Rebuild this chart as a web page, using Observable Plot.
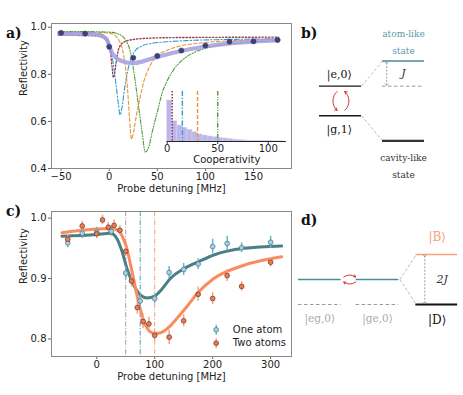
<!DOCTYPE html>
<html><head><meta charset="utf-8">
<script src="https://cdn.jsdelivr.net/npm/d3@7"></script>
<script src="https://cdn.jsdelivr.net/npm/@observablehq/plot@0.6"></script>
<style>
body{margin:0;background:#fff;}
#fig{position:relative;width:463px;height:395px;overflow:hidden;background:#fff;}
.lab{position:absolute;font-family:"DejaVu Serif",serif;font-weight:bold;font-size:14px;line-height:14px;color:#111;}
</style></head><body><div id="fig"></div>
<script>
// ---------- Panel a data ----------
const xTicksA = [-50, 0, 50, 100, 150];
const yTicksA = [0.4, 0.6, 0.8, 1.0];
const detA = [-50, -25, 0, 25, 50, 75, 100, 125, 150, 175];
const reflA = [0.976, 0.973, 0.917, 0.870, 0.878, 0.901, 0.922, 0.939, 0.940, 0.946];
const avgX = [-52, -20, -10, -3, 3, 8, 14, 20, 26, 35, 50, 75, 100, 125, 150, 176];
const avgY = [0.972, 0.971, 0.966, 0.950, 0.890, 0.867, 0.855, 0.849, 0.848, 0.855, 0.874, 0.899, 0.918, 0.931, 0.939, 0.945];
const maroonX = [-53, -30, -15, -8, -4, -1, 1.5, 3, 4.4, 5.5, 7, 9, 12, 17, 25, 40, 70, 120, 176];
const maroonY = [0.966, 0.965, 0.964, 0.960, 0.950, 0.930, 0.890, 0.830, 0.787, 0.800, 0.845, 0.895, 0.925, 0.940, 0.948, 0.953, 0.956, 0.957, 0.958];
const blueX = [-53, -20, -8, -3, 1, 4, 7, 9.5, 11.3, 13.5, 16, 19, 22, 27, 34, 45, 60, 80, 110, 140, 176];
const blueY = [0.975, 0.974, 0.970, 0.955, 0.920, 0.850, 0.760, 0.675, 0.628, 0.665, 0.740, 0.810, 0.860, 0.900, 0.920, 0.932, 0.938, 0.943, 0.947, 0.949, 0.951];
const orangeX = [-53, -20, 0, 6, 10, 13.5, 16.5, 19, 21, 23.2, 25.5, 28, 32, 36, 40, 45, 50, 60, 75, 100, 130, 176];
const orangeY = [0.978, 0.978, 0.975, 0.965, 0.945, 0.910, 0.840, 0.740, 0.620, 0.525, 0.560, 0.620, 0.700, 0.770, 0.815, 0.855, 0.878, 0.902, 0.921, 0.935, 0.943, 0.949];
const greenX = [-53, -20, 0, 10, 17, 22, 26, 30, 34, 37.5, 41, 45, 50, 55, 60, 67, 75, 88, 102, 126, 145, 176];
const greenY = [0.981, 0.981, 0.979, 0.970, 0.945, 0.895, 0.800, 0.680, 0.560, 0.470, 0.490, 0.560, 0.640, 0.720, 0.770, 0.820, 0.857, 0.892, 0.913, 0.929, 0.936, 0.943];
// inset histogram
const coopTicks = [0, 50, 100];
const coopBinStart = [0, 5, 10, 15, 20, 25, 30, 35, 40, 45, 50, 55, 60, 65, 70, 75, 80, 85, 90, 95, 100, 105, 110];
const coopCounts = [205, 101, 80, 68, 58, 46, 35, 30, 25, 21, 18, 15, 12, 9, 7, 5, 4, 3, 3, 2, 2, 1, 1];
const coopMarks = [5, 15, 30, 50];

// ---------- Panel c data ----------
const xTicksC = [0, 100, 200, 300];
const yTicksC = [0.8, 0.9, 1.0];
const oneX = [-50, -25, 0, 25, 50, 75, 100, 125, 150, 175, 200, 225, 250, 300];
const oneY = [0.959, 0.975, 0.977, 0.978, 0.909, 0.863, 0.867, 0.910, 0.915, 0.924, 0.953, 0.958, 0.951, 0.960];
const oneErr = [0.008, 0.009, 0.008, 0.008, 0.010, 0.010, 0.008, 0.010, 0.010, 0.009, 0.012, 0.012, 0.008, 0.010];
const twoX = [-50, -25, 0, 10, 20, 30, 40, 50, 60, 70, 80, 90, 100, 125, 150, 175, 200, 225, 250, 300];
const twoY = [0.965, 0.987, 0.974, 0.997, 0.985, 0.988, 0.980, 0.945, 0.896, 0.852, 0.829, 0.825, 0.806, 0.803, 0.830, 0.874, 0.867, 0.905, 0.887, 0.927];
const twoErr = [0.008, 0.008, 0.008, 0.008, 0.008, 0.009, 0.008, 0.008, 0.010, 0.011, 0.012, 0.011, 0.009, 0.012, 0.010, 0.012, 0.010, 0.010, 0.008, 0.008];
const fitOneX = [-60, 0, 24, 35, 44, 52, 64, 75, 87, 100, 112, 127, 150, 176, 202, 254, 319];
const fitOneY = [0.970, 0.973, 0.975, 0.966, 0.944, 0.917, 0.889, 0.873, 0.868, 0.871, 0.882, 0.900, 0.916, 0.928, 0.939, 0.950, 0.954];
const fitTwoX = [-60, 0, 25, 38, 44, 51, 61, 71, 81, 92, 101, 112, 125, 140, 155, 176, 202, 254, 319];
const fitTwoY = [0.976, 0.982, 0.983, 0.979, 0.970, 0.953, 0.911, 0.866, 0.830, 0.812, 0.809, 0.811, 0.820, 0.836, 0.853, 0.878, 0.900, 0.922, 0.936];
const vlinesC = [50, 75, 100];
const seriesNames = ["One atom", "Two atoms"];

// ---------- Panel b data ----------
const bBareStates = ["|e,0⟩", "|g,1⟩"];
const bBareE = [0, -1];
const bJ = 0.85;
const bDressedNames = ["atom-like\nstate", "cavity-like\nstate"];
const bDressedE = [bBareE[0] + bJ, bBareE[1] - bJ];

// ---------- Panel d data ----------
const dBareStates = ["|eg,0⟩", "|ge,0⟩"];
const dBareE = 0;
const dJ = 1;
const dCollective = ["|B⟩", "|D⟩"];
const dCollectiveE = [dBareE + dJ, dBareE - dJ];

// ---------- helpers ----------
const fig = document.getElementById("fig");
const sans = "DejaVu Sans, sans-serif";
const serif = "DejaVu Serif, serif";
function place(el, left, top) {
  el.style.position = "absolute";
  el.style.left = left + "px";
  el.style.top = top + "px";
  el.style.maxWidth = "none";
  fig.appendChild(el);
}
function label(t, left, top) {
  const d = document.createElement("div");
  d.className = "lab"; d.textContent = t;
  d.style.left = left + "px"; d.style.top = top + "px";
  fig.appendChild(d);
}
const pairs = (xs, ys) => xs.map((x, i) => [x, ys[i]]);
const f1 = d3.format(".1f");
const errBar = {draw(ctx, size) { const h = Math.sqrt(size / Math.PI); ctx.moveTo(0, -h); ctx.lineTo(0, h); }};

const cMaroon = "#9c3a55", cBlue = "#2f9ccd", cOrange = "#e8952f", cGreen = "#4f9a3e";
const cTeal = "#4b7f88", cSalmon = "#fa8b60";

// ---------- Panel a ----------
const pa = Plot.plot({
  width: 300, height: 195, marginLeft: 51, marginRight: 9, marginTop: 23, marginBottom: 27,
  x: {domain: [-60, 189.5]}, y: {domain: [0.4, 1.0157]},
  style: {fontFamily: sans, fontSize: "10px", color: "#222", background: "white"},
  marks: [
    Plot.axisX({ticks: xTicksA, tickSize: 3, tickPadding: 1, stroke: "#666", label: null}),
    Plot.axisY({ticks: yTicksA, tickSize: 3, tickPadding: 2, tickFormat: f1, stroke: "#666", label: null}),
    Plot.line(pairs(maroonX, maroonY), {stroke: cMaroon, strokeWidth: 1.4, strokeDasharray: "1.3,2", curve: "monotone-x"}),
    Plot.line(pairs(blueX, blueY), {stroke: cBlue, strokeWidth: 1.1, strokeDasharray: "5,2,1.2,2", curve: "monotone-x"}),
    Plot.line(pairs(orangeX, orangeY), {stroke: cOrange, strokeWidth: 1.1, strokeDasharray: "3.5,2.2", curve: "monotone-x"}),
    Plot.line(pairs(greenX, greenY), {stroke: cGreen, strokeWidth: 1.1, strokeDasharray: "4,1.6,1,1.6,1,1.6", curve: "monotone-x"}),
    Plot.line(pairs(avgX, avgY), {stroke: "#a39de0", strokeWidth: 4.2, strokeOpacity: 0.85, curve: "monotone-x"}),
    Plot.dot(pairs(detA, reflA), {r: 2.6, fill: "#3b4274", stroke: "#3b4274", strokeWidth: 0.5}),
    Plot.frame({stroke: "#888"}),
    Plot.text(["Probe detuning [MHz]"], {frameAnchor: "bottom", lineAnchor: "middle", dy: 20, fontSize: 10, fill: "#222"}),
    Plot.text(["Reflectivity"], {frameAnchor: "left", lineAnchor: "middle", dx: -28, rotate: -90, fontSize: 10, fill: "#222"})
  ]
});
place(pa, 0, 0);

// inset
const inset = Plot.plot({
  width: 145, height: 90, marginLeft: 16.7, marginRight: 9.1, marginTop: 11, marginBottom: 29,
  x: {domain: [0, 118]}, y: {domain: [0, 250], axis: null},
  style: {fontFamily: sans, fontSize: "10px", color: "#222", background: "transparent"},
  marks: [
    Plot.rectY(coopBinStart.map((s, i) => ({a: s, b: s + 5, c: coopCounts[i]})), {x1: "a", x2: "b", y: "c", fill: "#b6aee8", fillOpacity: 0.9, stroke: "#d6d0f3", strokeWidth: 0.5}),
    Plot.ruleX([coopMarks[0]], {stroke: cMaroon, strokeWidth: 1.6, strokeDasharray: "1.5,1.5"}),
    Plot.ruleX([coopMarks[1]], {stroke: cBlue, strokeWidth: 1.4, strokeDasharray: "5,1.8,1.2,1.8"}),
    Plot.ruleX([coopMarks[2]], {stroke: cOrange, strokeWidth: 1.4, strokeDasharray: "4,2"}),
    Plot.ruleX([coopMarks[3]], {stroke: cGreen, strokeWidth: 1.4, strokeDasharray: "4.5,1.4,1,1.4,1,1.4"}),
    Plot.ruleY([0], {stroke: "#222", strokeWidth: 1}),
    Plot.axisX({ticks: coopTicks, tickSize: 3, tickPadding: 0.5, stroke: "#333", label: null}),
    Plot.text(["Cooperativity"], {frameAnchor: "bottom", lineAnchor: "middle", dy: 18, fontSize: 10, fill: "#222"})
  ]
});
place(inset, 150, 80);

// ---------- Panel c ----------
const pc = Plot.plot({
  width: 300, height: 200, marginLeft: 51, marginRight: 9, marginTop: 16, marginBottom: 39,
  x: {domain: [-78, 336]}, y: {domain: [0.771, 1.011]},
  style: {fontFamily: sans, fontSize: "10px", color: "#222", background: "white"},
  marks: [
    Plot.axisX({ticks: xTicksC, tickSize: 3, tickPadding: 1, stroke: "#666", label: null}),
    Plot.axisY({ticks: yTicksC, tickSize: 3, tickPadding: 2, tickFormat: f1, stroke: "#666", label: null}),
    Plot.ruleX([vlinesC[0]], {stroke: "#a0a0a0", strokeWidth: 1, strokeDasharray: "5,1.6,1,1.6"}),
    Plot.ruleX([vlinesC[1]], {stroke: "#5d97a6", strokeWidth: 1, strokeDasharray: "5,1.6,1,1.6"}),
    Plot.ruleX([vlinesC[2]], {stroke: "#f6a07c", strokeWidth: 1, strokeDasharray: "5,1.6,1,1.6"}),
    Plot.line(pairs(fitOneX, fitOneY), {stroke: cTeal, strokeWidth: 3, curve: "monotone-x"}),
    Plot.line(pairs(fitTwoX, fitTwoY), {stroke: cSalmon, strokeWidth: 3, curve: "monotone-x"}),
    Plot.ruleX(oneX.map((x, i) => ({x, lo: oneY[i] - oneErr[i], hi: oneY[i] + oneErr[i]})), {x: "x", y1: "lo", y2: "hi", stroke: "#6fb2c8", strokeWidth: 1.5}),
    Plot.ruleX(twoX.map((x, i) => ({x, lo: twoY[i] - twoErr[i], hi: twoY[i] + twoErr[i]})), {x: "x", y1: "lo", y2: "hi", stroke: "#f6a385", strokeWidth: 1.5}),
    Plot.dot(pairs(oneX, oneY), {r: 2.4, fill: "#9fd3e4", stroke: "#4d6f78", strokeWidth: 0.7}),
    Plot.dot(pairs(twoX, twoY), {r: 2.4, fill: "#ef7a50", stroke: "#5e3628", strokeWidth: 0.7}),
    Plot.frame({stroke: "#888"}),
    // legend
    Plot.dot([0], {frameAnchor: "bottom-right", dx: -75.3, dy: -26.7, symbol: errBar, r: 5, stroke: "#6fb2c8", strokeWidth: 1.5, fill: "none"}),
    Plot.dot([0], {frameAnchor: "bottom-right", dx: -75.3, dy: -26.7, r: 2.4, fill: "#9fd3e4", stroke: "#4d6f78", strokeWidth: 0.7}),
    Plot.dot([0], {frameAnchor: "bottom-right", dx: -75.3, dy: -13.3, symbol: errBar, r: 5, stroke: "#f6a385", strokeWidth: 1.5, fill: "none"}),
    Plot.dot([0], {frameAnchor: "bottom-right", dx: -75.3, dy: -13.3, r: 2.4, fill: "#ef7a50", stroke: "#5e3628", strokeWidth: 0.7}),
    Plot.text([seriesNames[0]], {frameAnchor: "bottom-right", lineAnchor: "middle", dx: -58.7, dy: -26.7, textAnchor: "start", fontSize: 10, fill: "#222"}),
    Plot.text([seriesNames[1]], {frameAnchor: "bottom-right", lineAnchor: "middle", dx: -58.7, dy: -13.3, textAnchor: "start", fontSize: 10, fill: "#222"}),
    Plot.text(["Probe detuning [MHz]"], {frameAnchor: "bottom", lineAnchor: "middle", dy: 20.7, fontSize: 10, fill: "#222"}),
    Plot.text(["Reflectivity"], {frameAnchor: "left", lineAnchor: "middle", dx: -28, rotate: -90, fontSize: 10, fill: "#222"})
  ]
});
place(pc, 0, 195);

// ---------- Panel b ----------
const pb = Plot.plot({
  width: 173, height: 195, marginLeft: 29, marginRight: 39, marginTop: 0, marginBottom: 0,
  x: {domain: [0, 2.5], axis: null}, y: {domain: [-3.7, 2.9], axis: null},
  style: {fontFamily: serif, fontSize: "10px", background: "transparent"},
  marks: [
    Plot.link([0, 1], {x1: 1, y1: i => bBareE[i], x2: 1.5, y2: i => bDressedE[i], stroke: "#b3b3b3", strokeWidth: 0.9, strokeDasharray: "3,2"}),
    Plot.ruleY(bBareE, {x1: 0, x2: 1, stroke: "#1a1a1a", strokeWidth: 1.3}),
    Plot.ruleY([bBareE[0]], {x1: 1.5, x2: 2.5, stroke: "#9a9a9a", strokeWidth: 1, strokeDasharray: "3.5,2.5"}),
    Plot.ruleY([bDressedE[0]], {x1: 1.5, x2: 2.5, stroke: "#4e8b98", strokeWidth: 1.6}),
    Plot.ruleY([bDressedE[1]], {x1: 1.5, x2: 2.5, stroke: "#333", strokeWidth: 2.2}),
    Plot.link([0], {x1: 1.6, x2: 1.6, y1: bDressedE[0] - 0.05, y2: bBareE[0] + 0.05, stroke: "#888", strokeWidth: 0.8, strokeDasharray: "2,1.5", markerStart: "arrow", markerEnd: "arrow"}),
    Plot.text(["J"], {x: 2.0, y: (bDressedE[0] + bBareE[0]) / 2, fontStyle: "italic", fontSize: 11, fill: "#333"}),
    Plot.text([bBareStates[0]], {x: 0.47, y: bBareE[0], dy: -12, fontSize: 11, fill: "#111"}),
    Plot.text([bBareStates[1]], {x: 0.47, y: bBareE[1], dy: 13.5, fontSize: 11, fill: "#111"}),
    Plot.text([bDressedNames[0]], {x: 2.0, y: bDressedE[0], dy: -21, lineHeight: 1.9, fontSize: 9, fill: "#5b9aa8"}),
    Plot.text([bDressedNames[1]], {x: 2.0, y: bDressedE[1], dy: 23, lineHeight: 1.9, fontSize: 9, fill: "#333"}),
    Plot.arrow([0], {x1: 0.42, y1: -0.18, x2: 0.42, y2: -0.82, bend: -50, stroke: "#cc3b3b", strokeWidth: 1, headLength: 4}),
    Plot.arrow([0], {x1: 0.6, y1: -0.82, x2: 0.6, y2: -0.18, bend: -50, stroke: "#cc3b3b", strokeWidth: 1, headLength: 4})
  ]
});
place(pb, 290, 0);

// ---------- Panel d ----------
const dCols = [0, 1.35];
const pd = Plot.plot({
  width: 173, height: 200, marginLeft: 8, marginRight: 5, marginTop: 0, marginBottom: 0,
  x: {domain: [0, 3.75], axis: null}, y: {domain: [-4.64, 3.36], axis: null},
  style: {fontFamily: serif, fontSize: "10px", background: "transparent"},
  marks: [
    Plot.link([0, 1], {x1: 2.38, y1: dBareE, x2: 2.76, y2: i => dCollectiveE[i], stroke: "#b3b3b3", strokeWidth: 0.9, strokeDasharray: "3,2"}),
    Plot.ruleY(dCols, {y: dBareE, x1: c => c, x2: c => c + 1, stroke: "#4e8b98", strokeWidth: 1.6}),
    Plot.ruleY(dCols, {y: dCollectiveE[1], x1: c => c, x2: c => c + 1, stroke: "#9a9a9a", strokeWidth: 1, strokeDasharray: "3.5,2.5"}),
    Plot.ruleY([dCollectiveE[0]], {x1: 2.75, x2: 3.73, stroke: "#f9a27c", strokeWidth: 1.6}),
    Plot.ruleY([dCollectiveE[1]], {x1: 2.75, x2: 3.73, stroke: "#111", strokeWidth: 2}),
    Plot.link([0], {x1: 2.96, x2: 2.96, y1: dCollectiveE[0] - 0.05, y2: dCollectiveE[1] + 0.05, stroke: "#888", strokeWidth: 0.8, strokeDasharray: "2,1.5", markerStart: "arrow", markerEnd: "arrow"}),
    Plot.text(["2J"], {x: 3.37, y: dBareE, fontStyle: "italic", fontSize: 11, fill: "#333"}),
    Plot.text([dBareStates[0]], {x: 0.5, y: dCollectiveE[1], dy: 14.5, fontSize: 10.5, fill: "#aaa"}),
    Plot.text([dBareStates[1]], {x: 1.85, y: dCollectiveE[1], dy: 14.5, fontSize: 10.5, fill: "#aaa"}),
    Plot.text([dCollective[0]], {x: 3.25, y: dCollectiveE[0], dy: -17, fontSize: 12, fill: "#f7a07a"}),
    Plot.text([dCollective[1]], {x: 3.25, y: dCollectiveE[1], dy: 16, fontSize: 12, fill: "#111"}),
    Plot.arrow([0], {x1: 1.06, y1: 0.1, x2: 1.34, y2: 0.1, bend: 35, stroke: "#cc3b3b", strokeWidth: 1, headLength: 3.5}),
    Plot.arrow([0], {x1: 1.34, y1: -0.1, x2: 1.06, y2: -0.1, bend: 35, stroke: "#cc3b3b", strokeWidth: 1, headLength: 3.5})
  ]
});
place(pd, 290, 195);

label("a)", 6, 26);
label("b)", 301, 26);
label("c)", 6, 204);
label("d)", 301, 213);
</script></body></html>
